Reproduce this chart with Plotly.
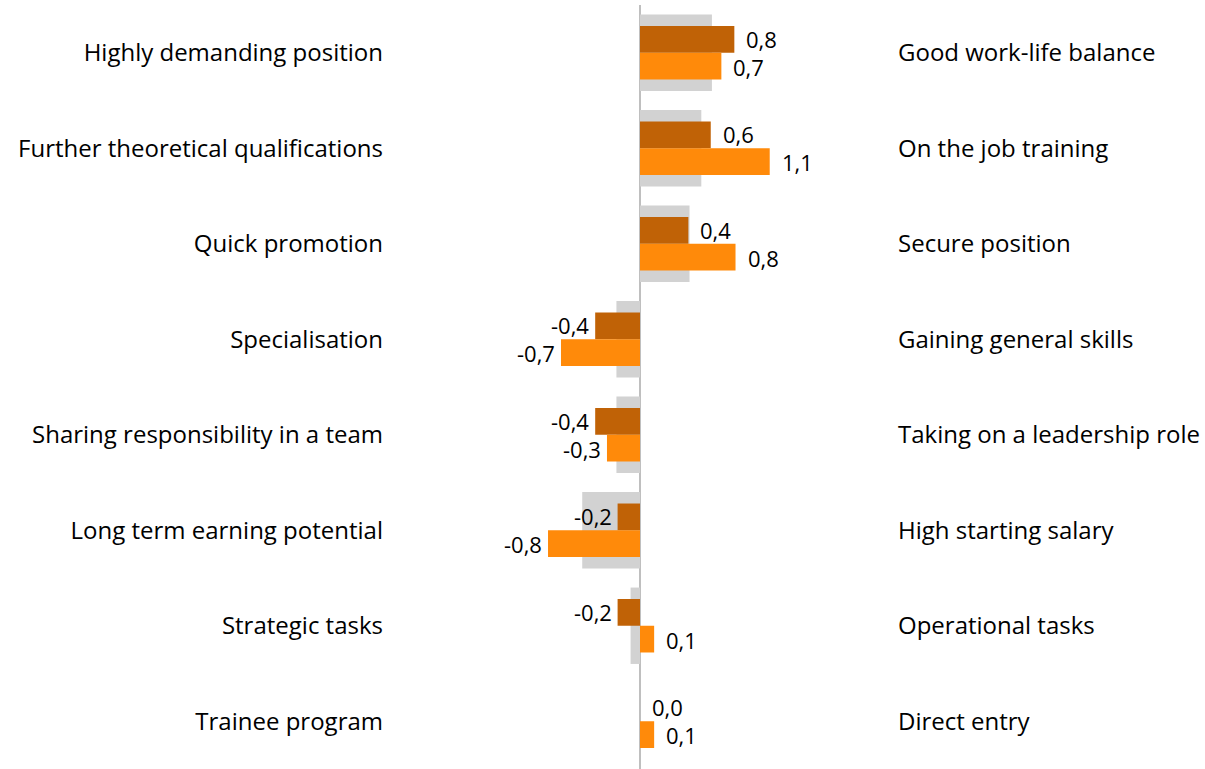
import plotly.graph_objects as go

left_labels = ["Highly demanding position", "Further theoretical qualifications", "Quick promotion",
               "Specialisation", "Sharing responsibility in a team", "Long term earning potential",
               "Strategic tasks", "Trainee program"]
right_labels = ["Good work-life balance", "On the job training", "Secure position",
                "Gaining general skills", "Taking on a leadership role", "High starting salary",
                "Operational tasks", "Direct entry"]
series_dark = [0.80, 0.60, 0.41, -0.38, -0.38, -0.19, -0.19, 0.0]
series_orange = [0.69, 1.10, 0.81, -0.67, -0.28, -0.78, 0.12, 0.12]
series_gray = [0.61, 0.52, 0.42, -0.20, -0.20, -0.49, -0.08, 0.0]

FONT = "Open Sans, sans-serif"
FSIZE = 24
DARK = "#C06206"
ORANGE = "#FF8A0A"
GRAY = "#D2D2D2"

def fmt(v):
    return f"{v:.1f}".replace(".", ",")

fig = go.Figure()
fig.add_trace(go.Bar(x=series_gray, y=left_labels, orientation="h", width=0.8, offset=-0.4,
                     marker=dict(color=GRAY, line=dict(width=0)), hoverinfo="skip", showlegend=False))
fig.add_trace(go.Bar(x=series_dark, y=left_labels, orientation="h", width=0.28, offset=-0.28,
                     marker=dict(color=DARK, line=dict(width=0)), showlegend=False))
fig.add_trace(go.Bar(x=series_orange, y=left_labels, orientation="h", width=0.28, offset=0.0,
                     marker=dict(color=ORANGE, line=dict(width=0)), showlegend=False))
fig.add_trace(go.Scatter(x=[0] * len(right_labels), y=right_labels, yaxis="y2", mode="markers",
                         marker=dict(opacity=0), hoverinfo="skip", showlegend=False))

annotations = []
for vals, shift in ((series_dark, 14), (series_orange, -14)):
    for cat, v in zip(left_labels, vals):
        annotations.append(dict(x=v, y=cat, xref="x", yref="y", text=fmt(v), showarrow=False,
                                xanchor="left" if v >= 0 else "right",
                                xshift=10 if v >= 0 else -4, yshift=shift,
                                font=dict(family=FONT, size=22, color="#000")))

fig.update_layout(
    width=1205, height=769,
    margin=dict(l=390, r=315, t=5, b=0),
    plot_bgcolor="white", paper_bgcolor="white",
    barmode="overlay",
    annotations=annotations,
    xaxis=dict(range=[-2.12, 2.12], showgrid=False, showticklabels=False, zeroline=True,
               zerolinecolor="#BFBFBF", zerolinewidth=2, fixedrange=True),
    yaxis=dict(type="category", categoryorder="array", categoryarray=left_labels,
               range=[7.5, -0.5], showgrid=False, ticks="", ticklabelstandoff=6,
               tickfont=dict(family=FONT, size=FSIZE, color="#000")),
    yaxis2=dict(type="category", categoryorder="array", categoryarray=right_labels,
                overlaying="y", side="right", range=[7.5, -0.5], showgrid=False, ticks="",
                ticklabelstandoff=7, tickfont=dict(family=FONT, size=FSIZE, color="#000")),
)

fig.write_html("out.html", config={"displayModeBar": False},
               post_script="document.body.style.margin='0';document.body.style.overflow='hidden';")
